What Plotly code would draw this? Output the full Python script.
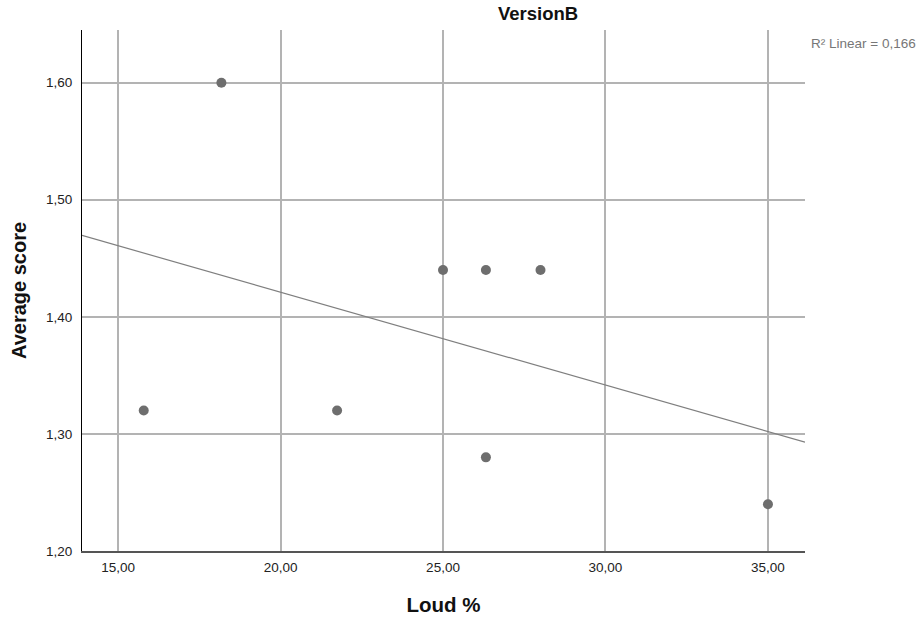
import numpy as np
import plotly.graph_objects as go

# Data
loud_pct = [15.79, 18.18, 21.74, 25.00, 26.32, 26.32, 28.00, 35.00]
avg_score = [1.32, 1.60, 1.32, 1.44, 1.44, 1.28, 1.44, 1.24]
x_ticks = [15, 20, 25, 30, 35]
y_ticks = [1.2, 1.3, 1.4, 1.5, 1.6]
x_range = [13.89, 36.14]
y_range = [1.2, 1.645]

slope, intercept = np.polyfit(loud_pct, avg_score, 1)
pred = np.polyval([slope, intercept], loud_pct)
ss_res = np.sum((np.array(avg_score) - pred) ** 2)
ss_tot = np.sum((np.array(avg_score) - np.mean(avg_score)) ** 2)
r2 = 1 - ss_res / ss_tot

fit_x = np.array(x_range)
fit_y = slope * fit_x + intercept

font = "Liberation Sans, Arial, sans-serif"

fig = go.Figure()
fig.add_trace(go.Scatter(x=fit_x, y=fit_y, mode="lines",
                         line=dict(color="#7f7f7f", width=1.2),
                         hoverinfo="skip", showlegend=False))
fig.add_trace(go.Scatter(x=loud_pct, y=avg_score, mode="markers",
                         marker=dict(color="#6e6e6e", size=10),
                         showlegend=False))

fig.update_layout(
    width=922, height=620,
    margin=dict(l=82, r=117, t=30, b=69),
    plot_bgcolor="white", paper_bgcolor="white",
    font=dict(family=font, size=13.5, color="#222"),
    title=dict(text="<b>VersionB</b>", x=538/922, xanchor="center",
               y=1 - 14/620, yanchor="middle",
               font=dict(size=18.5, color="#111", family=font)),
    xaxis=dict(range=x_range, tickvals=x_ticks,
               ticktext=[f"{v:.2f}".replace(".", ",") for v in x_ticks],
               showgrid=True, gridcolor="#b3b3b3", gridwidth=1.5,
               showline=True, linecolor="#555555", linewidth=1.5,
               zeroline=False, ticks="", ticklabelstandoff=3,
               automargin=False,
               title=dict(text="<b>Loud %</b>", standoff=24,
                          font=dict(size=20.5, color="#111", family=font))),
    yaxis=dict(range=y_range, tickvals=y_ticks,
               ticktext=[f"{v:.2f}".replace(".", ",") for v in y_ticks],
               showgrid=True, gridcolor="#b3b3b3", gridwidth=1.5,
               showline=True, linecolor="#000000", linewidth=1,
               zeroline=False, ticks="", ticklabelstandoff=6,
               automargin=False,
               title=dict(text="<b>Average score</b>", standoff=14,
                          font=dict(size=20, color="#111", family=font))),
    annotations=[dict(text=f"R² Linear = {r2:.3f}".replace(".", ","),
                      xref="paper", yref="paper",
                      x=1 + 4/723, xanchor="left",
                      y=1 - 13/521, yanchor="middle", showarrow=False,
                      font=dict(size=13.5, color="#777777", family=font))],
)

fig.write_html("out.html")
